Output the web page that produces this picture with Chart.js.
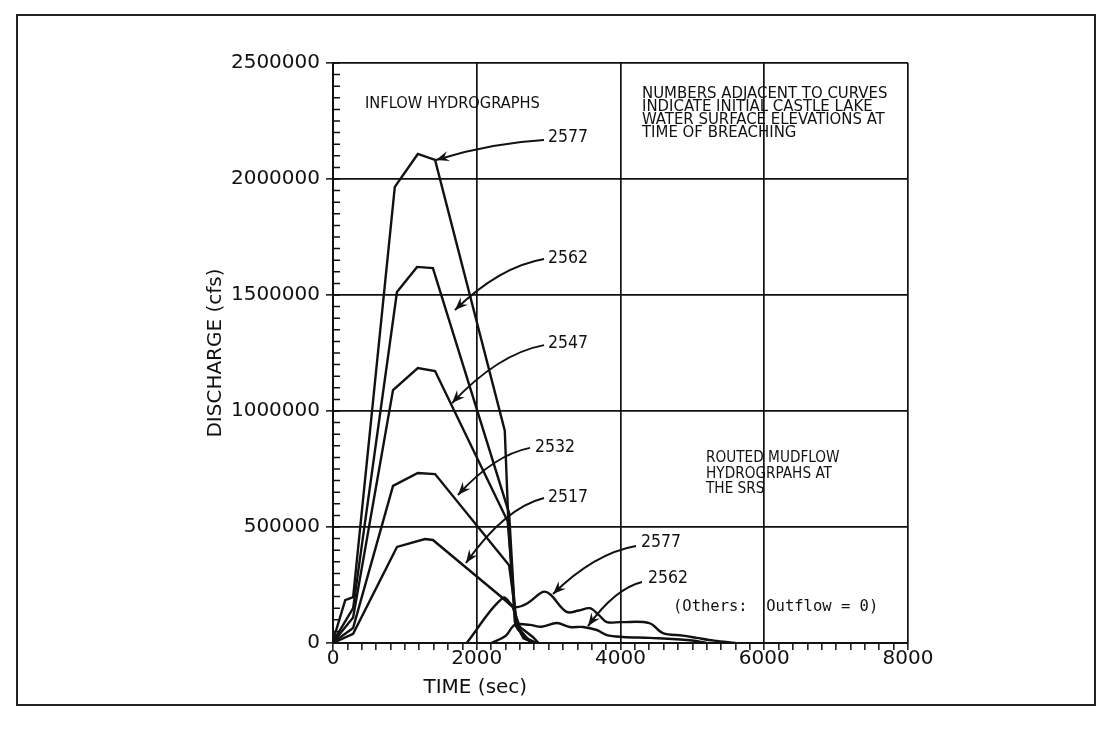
<!DOCTYPE html>
<html>
<head>
<meta charset="utf-8">
<script src="https://cdn.jsdelivr.net/npm/chart.js@4.4.1/dist/chart.umd.min.js"></script>
<style>
  html, body { margin: 0; padding: 0; background: #fff; }
  #wrap { position: relative; width: 1111px; height: 732px; overflow: hidden; }
  #c { position: absolute; left: 0; top: 0; }
  #frame { position: absolute; left: 16px; top: 14px; width: 1076px; height: 688px;
           border: 2px solid #222; pointer-events: none; }
</style>
</head>
<body>
<div id="wrap">
  <canvas id="c" width="1111" height="732"></canvas>
  <div id="frame"></div>
</div>
<script>
// ---------------- DATA (time in sec, discharge in cfs) ----------------
// Inflow hydrographs
const T_IN_2577 = [0, 170, 280, 860, 1180, 1420, 2390, 2440, 2530, 2650, 2800];
const Q_IN_2577 = [10000, 185000, 198000, 1966000, 2108000, 2082000, 915000, 520000, 90000, 20000, 0];

const T_IN_2562 = [0, 280, 890, 1170, 1390, 2450, 2540, 2700, 2820];
const Q_IN_2562 = [5000, 150000, 1513000, 1621000, 1616000, 560000, 80000, 20000, 0];

const T_IN_2547 = [0, 280, 835, 1180, 1420, 2430, 2550, 2700, 2820];
const Q_IN_2547 = [3000, 110000, 1090000, 1185000, 1172000, 525000, 70000, 15000, 0];

const T_IN_2532 = [0, 280, 835, 1180, 1420, 2450, 2570, 2720, 2840];
const Q_IN_2532 = [2000, 65000, 677000, 733000, 728000, 335000, 60000, 15000, 0];

const T_IN_2517 = [0, 280, 890, 1280, 1390, 2360, 2500, 2600, 2780, 2860];
const Q_IN_2517 = [0, 40000, 414000, 448000, 444000, 194000, 155000, 69000, 26000, 0];

// Routed mudflow hydrographs at the SRS
const T_OUT_2577 = [1860, 2364, 2530, 2700, 2920, 3020, 3250, 3420, 3574, 3700, 3810, 4000, 4400, 4590, 4870, 5060, 5300, 5600];
const Q_OUT_2577 = [0, 194000, 155000, 170000, 220000, 210000, 134000, 140000, 150000, 120000, 90000, 90000, 86000, 43000, 32000, 22000, 10000, 0];

const T_OUT_2562 = [2200, 2400, 2530, 2740, 2900, 3115, 3296, 3477, 3670, 3810, 4033, 4410, 4965, 5200];
const Q_OUT_2562 = [0, 30000, 78000, 78000, 70000, 86000, 69000, 69000, 56000, 34000, 26000, 22000, 12000, 0];

// Axes
const X_MIN = 0, X_MAX = 8000, X_MAJOR = 2000, X_MINOR = 200;
const Y_MIN = 0, Y_MAX = 2500000, Y_MAJOR = 500000, Y_MINOR = 50000;
const X_TITLE = 'TIME (sec)';
const Y_TITLE = 'DISCHARGE (cfs)';

// Annotation texts (positions in data units)
const NOTE_INFLOW = ['INFLOW HYDROGRAPHS'];
const NOTE_NUMBERS = ['NUMBERS ADJACENT TO CURVES', 'INDICATE INITIAL CASTLE LAKE',
                      'WATER SURFACE ELEVATIONS AT', 'TIME OF BREACHING'];
const NOTE_ROUTED = ['ROUTED MUDFLOW', 'HYDROGRPAHS AT', 'THE SRS'];
const NOTE_OTHERS = ['(Others:  Outflow = 0)'];

// Curve labels with arrows: label, label pos (t,q), arrow from (t,q) to (t,q)
const CURVE_LABELS = ['2577', '2562', '2547', '2532', '2517', '2577', '2562'];
const LABEL_T = [2991, 2991, 2991, 2810, 2991, 4285, 4383];
const LABEL_Q = [2181000, 1659000, 1293000, 845000, 629000, 435000, 280000];
const ARROW_FROM_T = [2936, 2936, 2936, 2741, 2936, 4216, 4299];
const ARROW_FROM_Q = [2168000, 1655000, 1284000, 841000, 625000, 418000, 263000];
const ARROW_TO_T = [1433, 1697, 1656, 1739, 1850, 3061, 3548];
const ARROW_TO_Q = [2082000, 1435000, 1034000, 638000, 345000, 211000, 73000];

// ---------------- BUILD ----------------
const zip = (t, q) => t.map((v, i) => ({ x: v, y: q[i] }));
const INK = '#111';
const line = (label, t, q, smooth) => ({
  label, data: zip(t, q), borderColor: INK, borderWidth: 2.4,
  pointRadius: 0, fill: false, tension: smooth ? 0.35 : 0
});

const condFont = '"DejaVu Sans Condensed", "Liberation Sans Narrow", "Roboto Condensed", "DejaVu Sans", sans-serif';

const notesPlugin = {
  id: 'notes',
  afterDraw(chart) {
    const { ctx } = chart;
    const xs = chart.scales.x, ys = chart.scales.y;
    ctx.save();
    // inward ticks on y axis
    ctx.strokeStyle = INK; ctx.lineWidth = 1.5;
    ctx.beginPath();
    for (let v = Y_MIN; v <= Y_MAX; v += Y_MINOR) {
      const p = ys.getPixelForValue(v);
      ctx.moveTo(xs.left, p); ctx.lineTo(xs.left + 7, p);
    }
    ctx.stroke();

    // x-axis title
    ctx.fillStyle = INK;
    ctx.font = '20px "DejaVu Sans", sans-serif';
    ctx.textAlign = 'center'; ctx.textBaseline = 'middle';
    ctx.fillText(X_TITLE, xs.getPixelForValue(1980), ys.bottom + 45);

    // text blocks
    const block = (lines, t, q, font, lh) => {
      ctx.font = font; ctx.textAlign = 'left'; ctx.textBaseline = 'middle';
      const px = xs.getPixelForValue(t), py = ys.getPixelForValue(q);
      lines.forEach((s, i) => ctx.fillText(s, px, py + i * lh));
    };
    block(NOTE_INFLOW, 445, 2323000, '16.3px ' + condFont, 13);
    block(NOTE_NUMBERS, 4299, 2366000, '16.6px ' + condFont, 13);
    block(NOTE_ROUTED, 5190, 797000, '15.2px ' + condFont, 15.5);
    block(NOTE_OTHERS, 4730, 155000, '15.5px "DejaVu Sans Mono", monospace', 15);

    // curve labels + arrows
    ctx.lineWidth = 2;
    CURVE_LABELS.forEach((lab, i) => {
      ctx.font = '17.5px ' + condFont;
      ctx.textAlign = 'left'; ctx.textBaseline = 'middle';
      ctx.fillText(lab, xs.getPixelForValue(LABEL_T[i]), ys.getPixelForValue(LABEL_Q[i]));
      const x0 = xs.getPixelForValue(ARROW_FROM_T[i]), y0 = ys.getPixelForValue(ARROW_FROM_Q[i]);
      const x1 = xs.getPixelForValue(ARROW_TO_T[i]), y1 = ys.getPixelForValue(ARROW_TO_Q[i]);
      const cx = x0 + (x1 - x0) * 0.5, cy = y0 + (y1 - y0) * 0.15;
      ctx.beginPath(); ctx.moveTo(x0, y0); ctx.quadraticCurveTo(cx, cy, x1, y1); ctx.stroke();
      const ang = Math.atan2(y1 - cy, x1 - cx);
      const L = 14, W = 0.38;
      ctx.beginPath();
      ctx.moveTo(x1, y1);
      ctx.lineTo(x1 - L * Math.cos(ang - W), y1 - L * Math.sin(ang - W));
      ctx.lineTo(x1 - L * 0.6 * Math.cos(ang), y1 - L * 0.6 * Math.sin(ang));
      ctx.lineTo(x1 - L * Math.cos(ang + W), y1 - L * Math.sin(ang + W));
      ctx.closePath(); ctx.fill();
    });
    ctx.restore();
  }
};

new Chart(document.getElementById('c'), {
  type: 'line',
  data: {
    datasets: [
      line('Inflow 2577', T_IN_2577, Q_IN_2577, false),
      line('Inflow 2562', T_IN_2562, Q_IN_2562, false),
      line('Inflow 2547', T_IN_2547, Q_IN_2547, false),
      line('Inflow 2532', T_IN_2532, Q_IN_2532, false),
      line('Inflow 2517', T_IN_2517, Q_IN_2517, false),
      line('Routed 2577', T_OUT_2577, Q_OUT_2577, true),
      line('Routed 2562', T_OUT_2562, Q_OUT_2562, true)
    ]
  },
  options: {
    responsive: false,
    animation: false,
    devicePixelRatio: 1,
    layout: { padding: { top: 63, right: 203, left: 0, bottom: 0 } },
    plugins: { legend: { display: false }, tooltip: { enabled: false } },
    scales: {
      x: {
        type: 'linear', min: X_MIN, max: X_MAX,
        afterFit: s => { s.height = 89; },
        ticks: {
          stepSize: X_MINOR, autoSkip: false, maxRotation: 0, padding: -3,
          color: INK, font: { family: '"DejaVu Sans", sans-serif', size: 20 },
          callback: v => (v % X_MAJOR === 0 ? String(v) : '')
        },
        grid: {
          color: c => (c.tick && c.tick.value % X_MAJOR === 0 ? INK : 'rgba(0,0,0,0)'),
          tickColor: INK, lineWidth: 1.7, tickLength: 7, tickWidth: 1.5
        },
        border: { display: true, color: INK, width: 2 }
      },
      y: {
        type: 'linear', min: Y_MIN, max: Y_MAX,
        afterFit: s => { s.width = 333; },
        title: { display: true, text: Y_TITLE, color: INK,
                 font: { family: '"DejaVu Sans", sans-serif', size: 20 },
                 padding: { top: 204, bottom: 0 } },
        ticks: {
          stepSize: Y_MINOR, autoSkip: false, padding: 6,
          color: INK, font: { family: '"DejaVu Sans", sans-serif', size: 20 },
          callback: v => (v % Y_MAJOR === 0 ? String(v) : '')
        },
        grid: {
          color: c => (c.tick && c.tick.value % Y_MAJOR === 0 ? INK : 'rgba(0,0,0,0)'),
          tickColor: c => (c.tick && c.tick.value % Y_MAJOR === 0 ? INK : 'rgba(0,0,0,0)'),
          lineWidth: 1.7, tickLength: 7, tickWidth: 1.5
        },
        border: { display: true, color: INK, width: 2 }
      }
    }
  },
  plugins: [notesPlugin]
});
</script>
</body>
</html>
